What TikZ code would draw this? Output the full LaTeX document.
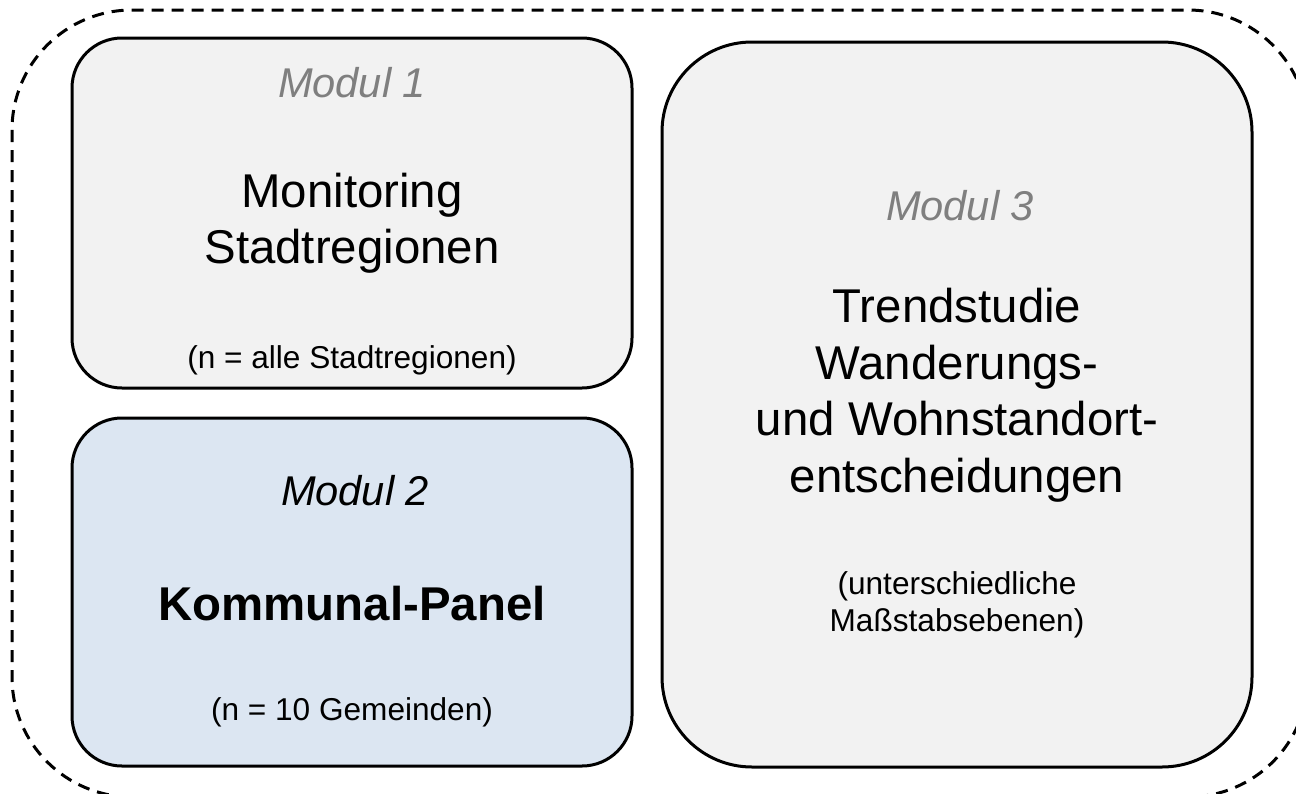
\documentclass[tikz,border=0pt]{standalone}
\usepackage{fontspec}
\setmainfont{Liberation Sans}
\definecolor{boxgray}{HTML}{F2F2F2}
\definecolor{boxblue}{HTML}{DCE6F2}
\definecolor{modgray}{HTML}{7F7F7F}
\begin{document}
\begin{tikzpicture}[x=0.5pt,y=-0.5pt,
  modbox/.style={draw=black, line width=1.5pt, rectangle, inner sep=0pt},
  modlabel/.style={anchor=base, inner sep=0pt, font=\fontsize{20.8}{25}\selectfont\itshape},
  maintext/.style={anchor=base, inner sep=0pt, font=\fontsize{23.7}{28}\selectfont},
  notetext/.style={anchor=base, inner sep=0pt, font=\fontsize{15.8}{19}\selectfont}
]
\useasboundingbox (0,0) rectangle (1296,793);
\begin{scope}
\clip (0,0) rectangle (1296,793);
\draw[line width=1.5pt, dash pattern=on 6pt off 4pt, rounded corners=60pt] (12,10) rectangle (1308,797);
\end{scope}
% boxes
\node[modbox, fill=boxgray, rounded corners=25pt, minimum width=280pt, minimum height=175pt] (m1) at (352,213) {};
\node[modbox, fill=boxblue, rounded corners=25pt, minimum width=280pt, minimum height=174pt] (m2) at (352,592) {};
\node[modbox, fill=boxgray, rounded corners=45pt, minimum width=295pt, minimum height=362.5pt] (m3) at (957,404.5) {};
% Modul 1
\node[modlabel, text=modgray] (m1t) at (352,97) {Modul 1};
\node[maintext] (m1a) at (352,207) {Monitoring};
\node[maintext] (m1b) at (352,263) {Stadtregionen};
\node[notetext] (m1n) at (352,368) {(n = alle Stadtregionen)};
% Modul 2
\node[modlabel] (m2t) at (355,505) {Modul 2};
\node[maintext, font=\fontsize{23.7}{28}\selectfont\bfseries] (m2a) at (352,620) {Kommunal-Panel};
\node[notetext] (m2n) at (352,720) {(n = 10 Gemeinden)};
% Modul 3
\node[modlabel, text=modgray] (m3t) at (960,220) {Modul 3};
\node[maintext] (m3a) at (957,322) {Trendstudie};
\node[maintext] (m3b) at (957,379) {Wanderungs-};
\node[maintext] (m3c) at (957,435) {und Wohnstandort-};
\node[maintext] (m3d) at (957,492) {entscheidungen};
\node[notetext] (m3n1) at (957,594) {(unterschiedliche};
\node[notetext] (m3n2) at (957,631) {Maßstabsebenen)};
\end{tikzpicture}
\end{document}
